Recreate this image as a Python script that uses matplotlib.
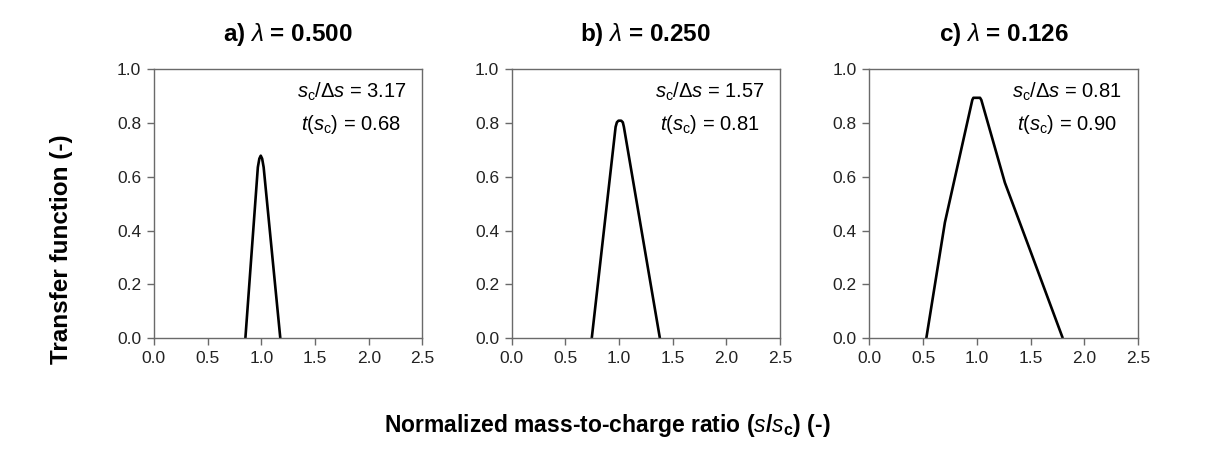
import matplotlib
matplotlib.use("Agg")
import matplotlib.pyplot as plt

plt.rcParams['font.family'] = ['Liberation Sans', 'DejaVu Sans']
plt.rcParams['mathtext.fontset'] = 'custom'
plt.rcParams['mathtext.rm'] = 'Liberation Sans'
plt.rcParams['mathtext.it'] = 'Liberation Sans:italic'
plt.rcParams['mathtext.bf'] = 'Liberation Sans:bold'

# Data
titles = ["a) $\\lambda$ = 0.500", "b) $\\lambda$ = 0.250", "c) $\\lambda$ = 0.126"]
ratio_labels = ["3.17", "1.57", "0.81"]
tsc_labels = ["0.68", "0.81", "0.90"]

xa = [0.852, 0.968, 0.982, 0.995, 1.008, 1.022, 1.177]
ya = [0.0, 0.635, 0.667, 0.678, 0.667, 0.635, 0.0]

xb = [0.746, 0.968, 0.980, 0.995, 1.020, 1.035, 1.045, 1.380]
yb = [0.0, 0.785, 0.802, 0.808, 0.808, 0.802, 0.785, 0.0]

xc = [0.530, 0.703, 0.958, 0.968, 1.030, 1.042, 1.261, 1.494, 1.800]
yc = [0.0, 0.430, 0.885, 0.893, 0.893, 0.885, 0.578, 0.329, 0.0]

curves = [(xa, ya), (xb, yb), (xc, yc)]
xticks = [0.0, 0.5, 1.0, 1.5, 2.0, 2.5]
yticks = [0.0, 0.2, 0.4, 0.6, 0.8, 1.0]

fig, axes = plt.subplots(1, 3, figsize=(12.21, 4.57), dpi=100)
fig.subplots_adjust(left=0.126, right=0.932, top=0.849, bottom=0.260, wspace=0.332)

spine_col = '#6a6a6a'
for i, ax in enumerate(axes):
    x, y = curves[i]
    ax.plot(x, y, color='black', lw=1.9, solid_joinstyle='round', solid_capstyle='butt')
    ax.set_xlim(0, 2.5)
    ax.set_ylim(0, 1.0)
    ax.set_xticks(xticks)
    ax.set_xticklabels([f"{v:.1f}" for v in xticks])
    ax.set_yticks(yticks)
    ax.set_yticklabels([f"{v:.1f}" for v in yticks])
    for s in ax.spines.values():
        s.set_color(spine_col)
        s.set_linewidth(1.0)
    ax.tick_params(direction='out', length=5, width=1.0, color=spine_col,
                   labelsize=12.5, labelcolor='#222222', pad=4)
    ax.set_title(titles[i], fontsize=17.5, fontweight='bold', pad=20)
    t1 = ax.text(0.94, 0.914, "$s_\\mathrm{c}/\\Delta s$ = " + ratio_labels[i],
                 transform=ax.transAxes, ha='right', va='center', fontsize=14.5)
    ax.annotate("$t(s_\\mathrm{c})$ = " + tsc_labels[i], xy=(0.5, 0.5), xycoords=t1,
                xytext=(0, -23), textcoords='offset points',
                ha='center', va='center', fontsize=14.5)

fig.text(0.05, 0.455, "Transfer function (-)", rotation=90, ha='center', va='center',
         fontsize=17.5, fontweight='bold')
fig.text(0.497, 0.07, "Normalized mass-to-charge ratio ($\\mathbf{\\mathit{s}}$/$\\mathbf{\\mathit{s}}_\\mathbf{c}$) (-)",
         ha='center', va='center', fontsize=16.5, fontweight='bold')

fig.savefig("out.png", dpi=100)
